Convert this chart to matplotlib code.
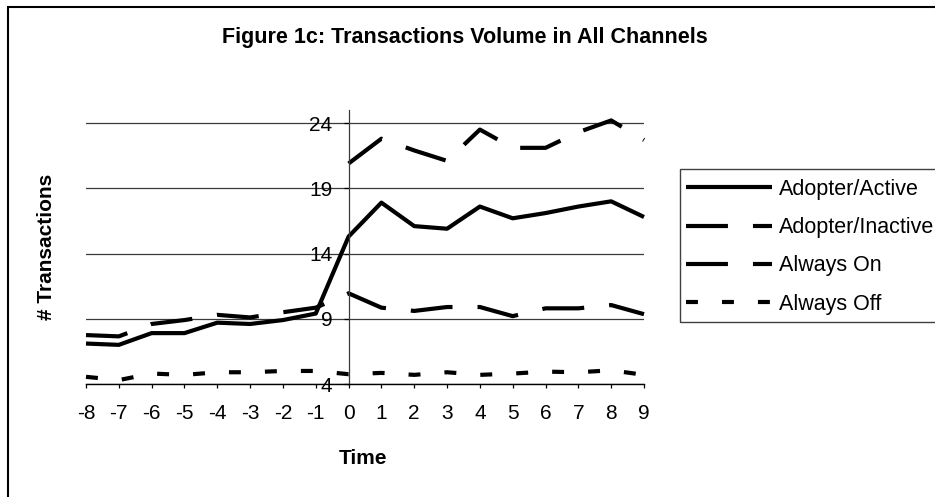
import numpy as np
import matplotlib
matplotlib.use("Agg")
import matplotlib.pyplot as plt
from matplotlib.patches import Rectangle
from matplotlib.lines import Line2D

plt.rcParams['font.family'] = ['Liberation Sans', 'DejaVu Sans']
plt.rcParams['lines.scale_dashes'] = False

# Time relative to adoption
time = list(range(-8, 10))

adopter_active = [7.1, 7.0, 7.9, 7.9, 8.7, 8.6, 8.9, 9.4,
                  15.3, 17.9, 16.1, 15.9, 17.6, 16.7, 17.1, 17.6, 18.0, 16.8]
adopter_inactive = [7.75, 7.65, 8.6, 8.9, 9.3, 9.1, 9.5, 9.85,
                    10.95, 9.85, 9.6, 9.9, 9.9, 9.2, 9.8, 9.8, 10.05, 9.35]
always_on = [np.nan] * 8 + [20.9, 22.8, 21.9, 21.1, 23.5, 22.1, 22.1, 23.3, 24.2, 22.7]
always_off = [4.55, 4.3, 4.8, 4.7, 4.9, 4.9, 5.0, 5.0,
              4.75, 4.85, 4.7, 4.9, 4.7, 4.8, 4.95, 4.9, 5.05, 4.7]

series_names = ["Adopter/Active", "Adopter/Inactive", "Always On", "Always Off"]
y_ticks = [4, 9, 14, 19, 24]

W, H = 935, 497
fig = plt.figure(figsize=(W / 100, H / 100), dpi=100)


def px(x, y):
    """Figure pixel position (from top-left) to figure fraction."""
    return x / W, 1 - y / H


ax = fig.add_axes([86 / W, (H - 384) / H, (644 - 86) / W, (384 - 110) / H])
ax.set_xlim(-8, 9)
ax.set_ylim(4, 25)

lw = 3.0
long_dash = (0, (30.2, 18.0))
short_dash = (0, (8.6, 17.3))

l1, = ax.plot(time, adopter_active, color='black', lw=lw, solid_capstyle='butt',
              solid_joinstyle='round')
l2, = ax.plot(time, adopter_inactive, color='black', lw=lw, linestyle=long_dash,
              dash_capstyle='butt')
l3, = ax.plot(time, always_on, color='black', lw=lw, linestyle=long_dash,
              dash_capstyle='butt')
l4, = ax.plot(time, always_off, color='black', lw=lw, linestyle=short_dash,
              dash_capstyle='butt')
for ln in (l1, l2, l3, l4):
    ln.set_clip_on(False)

# Axes styling: value axis crosses at time 0
ax.set_yticks(y_ticks)
ax.set_xticks(time)
ax.set_xticklabels([str(t) for t in time])
ax.yaxis.grid(True, color='#3a3a3a', lw=0.9)
ax.set_axisbelow(True)
for s in ('top', 'right'):
    ax.spines[s].set_visible(False)
ax.spines['left'].set_position(('data', 0))
ax.spines['left'].set_color('#3a3a3a')
ax.spines['left'].set_linewidth(0.9)
ax.spines['bottom'].set_color('black')
ax.spines['bottom'].set_linewidth(1.0)
ax.tick_params(axis='y', direction='out', length=3.6, width=0.9, pad=8,
               labelsize=15, colors='black')
ax.tick_params(axis='x', direction='out', length=3.0, width=0.9, pad=11.5,
               labelsize=15, colors='black')
ax.patch.set_alpha(0)

# Titles
fig.text(*px(222, 37), "Figure 1c: Transactions Volume in All Channels",
         fontsize=15.5, fontweight='bold', ha='left', va='center')
fig.text(*px(363, 458), "Time", fontsize=15, fontweight='bold',
         ha='center', va='center')
fig.text(*px(47, 247), "# Transactions", fontsize=15, fontweight='bold',
         ha='center', va='center', rotation=90)

# Legend
handles = [
    Line2D([], [], color='black', lw=lw, solid_capstyle='butt'),
    Line2D([], [], color='black', lw=lw, linestyle=long_dash, dash_capstyle='butt'),
    Line2D([], [], color='black', lw=lw, linestyle=long_dash, dash_capstyle='butt'),
    Line2D([], [], color='black', lw=lw, linestyle=short_dash, dash_capstyle='butt'),
]
fig.legend(handles, series_names, loc='upper left', bbox_to_anchor=px(686, 179),
           frameon=False, borderpad=0, borderaxespad=0, handlelength=4.0,
           handletextpad=0.3, labelspacing=0.8, fontsize=15.5)

lx0, ly0 = px(680, 322)
lx1, ly1 = px(945, 169)
fig.patches.append(Rectangle((lx0, ly0), lx1 - lx0, ly1 - ly0, transform=fig.transFigure,
                             fill=False, edgecolor='#404040', lw=1.0))

# Chart area border
bx0, by0 = px(8, 510)
bx1, by1 = px(950, 7)
fig.patches.append(Rectangle((bx0, by0), bx1 - bx0, by1 - by0, transform=fig.transFigure,
                             fill=False, edgecolor='black', lw=1.5))

fig.savefig("out.png", dpi=100)
